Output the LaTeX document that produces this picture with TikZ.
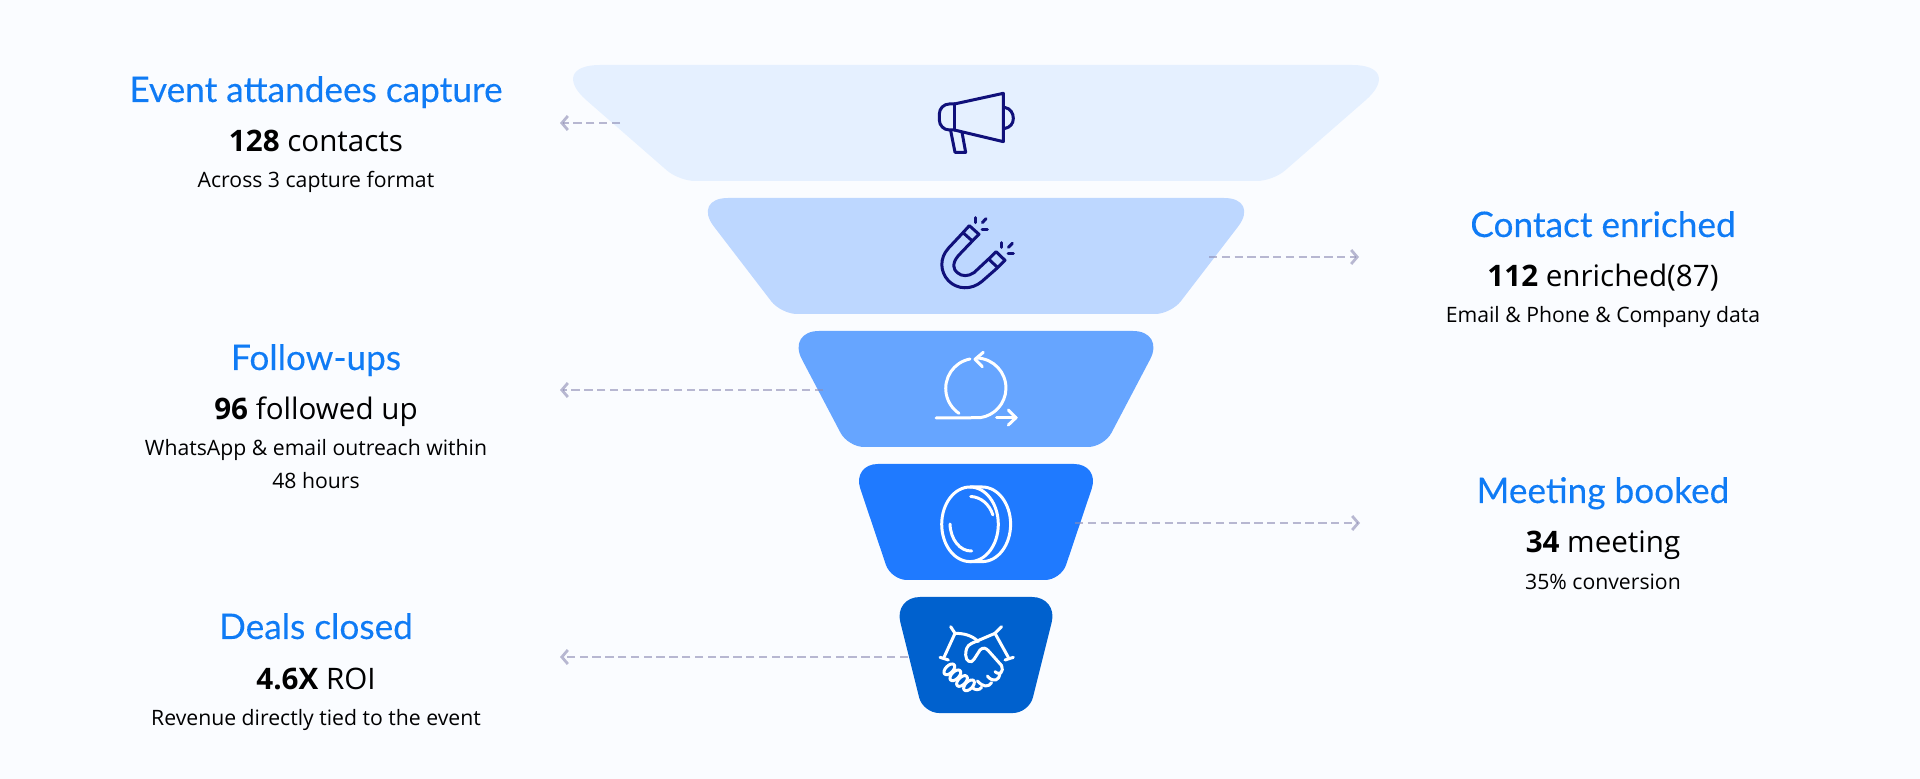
\documentclass[tikz,border=0pt]{standalone}
\usepackage{fontspec}
\setmainfont{Open Sans}
\newfontfamily\headfont[FakeBold=0.2]{Lato}
\usetikzlibrary{arrows.meta}
\definecolor{pagebg}{HTML}{FAFCFF}
\definecolor{fone}{HTML}{E5F0FF}
\definecolor{ftwo}{HTML}{BDD7FF}
\definecolor{fthree}{HTML}{66A5FF}
\definecolor{ffour}{HTML}{1F7AFF}
\definecolor{ffive}{HTML}{0061CE}
\definecolor{qnavy}{HTML}{10107A}
\definecolor{qhead}{HTML}{0F7BF5}
\definecolor{qdash}{HTML}{8E8EB5}
\tikzset{
  headtext/.style={anchor=base, text=qhead, font=\headfont\fontsize{17.6}{20}\selectfont},
  counttext/.style={anchor=base, text=black, font=\fontsize{14.8}{17}\selectfont},
  subtext/.style={anchor=base, text=black, font=\fontsize{10.6}{12}\selectfont},
  flowarrow/.style={draw=qdash, opacity=0.62, line width=1.4pt, dash pattern=on 4.2pt off 2.2pt, -{Straight Barb[length=3pt,width=7pt]}},
  iconline/.style={line width=1.5pt, line cap=round, line join=round},
}
\begin{document}
\begin{tikzpicture}[x=0.5pt,y=-0.5pt]
\def\cx{976}%funnel axis
\fill[pagebg] (0,0) rectangle (1920,779);
\useasboundingbox (0,0) rectangle (1920,779);

 %funnel parts, top to bottom
 \foreach \yt/\yb/\wt/\wb/\col/\rt in {65/181/430/297/fone/27pt,198/314/284/195/ftwo/18pt,331/447/189/128/fthree/16pt,464/580/124/85/ffour/13pt,597/713/82/53/ffive/13pt}
 {
   \fill[\col, rounded corners=\rt] (\cx-\wt,\yt) -- (\cx+\wt,\yt) [rounded corners=8pt] -- (\cx+\wb,\yb) -- (\cx-\wb,\yb) [rounded corners=\rt] -- cycle;
 }

 %dashed arrows
 \foreach \n/\xa/\xb/\yy in {capture/620/560/123,enrich/1209/1359/257,follow/823/560/390,meeting/1075/1360/523,deals/908/560/657}
 {
   \coordinate (\n from) at (\xa,\yy);
   \coordinate (\n to) at (\xb,\yy);
   \draw[flowarrow] (\n from) -- (\n to);
 }

 %labels
 \foreach \n/\xx/\yy/\head/\num/\rest/\sub in {
   capture/316/102/{Event attandees capture}/128/contacts/{Across 3 capture format},
   enrich/1603/237/{Contact enriched}/112/enriched(87)/{Email \& Phone \& Company data},
   follow/316/370/{Follow-ups}/96/followed up/{WhatsApp \& email outreach within},
   meeting/1603/503/{Meeting booked}/34/meeting/{35\% conversion},
   deals/316/639/{Deals closed}/4.6X/ROI/{Revenue directly tied to the event}}
 {
   \node[headtext] (\n head) at (\xx,\yy) {\head};
   \node[counttext] (\n count) at (\xx,\yy+50) {\textbf{\num} \rest};
   \node[subtext] (\n sub) at (\xx,\yy+86) {\sub};
 }
 \node[subtext] (follow subb) at (316,489) {48 hours};

 %megaphone
 \begin{scope}[shift={(900,80)},scale=0.3333,iconline,qnavy]
   \draw[rounded corners=5pt] (163,72) -- (118,72) -- (118,150) -- (163,150);
   \draw (163,72) -- (163,150);
   \draw (163,72) -- (310,40) -- (310,185) -- (163,150);
   \draw (313,82) .. controls (332,85) and (340,100) .. (340,115) .. controls (340,130) and (332,142) .. (313,146);
   \draw (152,152) -- (165,217) -- (197,217) -- (186,157);
 \end{scope}

 %magnet
 \begin{scope}[shift={(900,80)},scale=0.3333,iconline,qnavy]
   \draw (208,437) -- (237,463) -- (217,483) -- (189,458) -- cycle;
   \draw (288,515) -- (315,541) -- (293,563) -- (266,537) -- cycle;
   \draw (189,458) -- (145,505) .. controls (118,535) and (120,575) .. (145,602) .. controls (172,630) and (215,630) .. (245,605) -- (293,563);
   \draw (217,483) -- (175,527) .. controls (155,550) and (160,570) .. (172,578) .. controls (185,590) and (205,590) .. (222,578) -- (266,537);
   \draw (225,413) -- (225,428);
   \draw (247,428) -- (258,416);
   \draw (246,448) -- (262,448);
   \draw (304,488) -- (304,502);
   \draw (325,502) -- (337,490);
   \draw (324,520) -- (340,520);
 \end{scope}

 %loop
 \begin{scope}[iconline,white]
   \draw (970,359) arc[start angle=259,end angle=124,radius=30];
   \draw (977,358) arc[start angle=-88,end angle=82,radius=30] -- (936,418);
   \draw (983.3,352.3) -- (975,359.3) -- (982.3,366.7);
   \draw (996.7,417.7) -- (1016,417.7);
   \draw (1008.3,410) -- (1016,417.7) -- (1008.3,425);
 \end{scope}

 %coin
 \begin{scope}[iconline,white]
   \draw (970,524.3) ellipse[x radius=28.3,y radius=37.3];
   \draw (970,487) -- (982.3,487) arc[start angle=-90,end angle=90,x radius=28.3,y radius=37.3] -- (970,561.6);
   \draw (970.7,496.5) arc[start angle=-88,end angle=-20,x radius=24.5,y radius=28];
   \draw (950,524) arc[start angle=178,end angle=88,x radius=21,y radius=28];
 \end{scope}

 %handshake
 \begin{scope}[shift={(900,600)},scale=0.3333,iconline,white]
   \draw (152,80) -- (165,100) .. controls (190,100) and (215,105) .. (235,125);
   \draw (165,100) -- (132,172);
   \draw (120,172) -- (145,180);
   \draw (305,80) -- (285,100) -- (325,172);
   \draw (340,172) -- (315,180);
   \draw (285,100) -- (215,130) .. controls (200,137) and (197,150) .. (197,165) .. controls (197,185) and (215,192) .. (222,178) -- (240,150) .. controls (250,140) and (258,145) .. (265,152) -- (305,197);
   \foreach \fx/\fy in {148/208,166/226,186/243,207/256}
     \draw[rotate around={45:(\fx,\fy)}] (\fx,\fy) ellipse[x radius=20,y radius=11];
   \draw (305,197) .. controls (312,215) and (300,228) .. (285,215);
   \draw (300,222) .. controls (298,240) and (280,250) .. (262,228);
   \draw (275,248) .. controls (265,262) and (250,262) .. (232,243);
   \draw (245,262) .. controls (238,272) and (225,270) .. (218,264);
 \end{scope}
\end{tikzpicture}
\end{document}
